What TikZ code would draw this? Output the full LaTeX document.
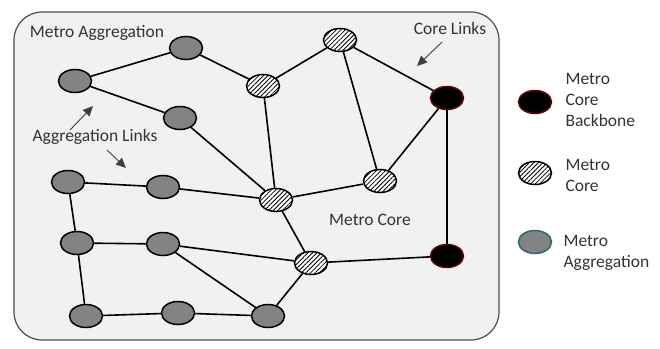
\documentclass[tikz,border=0pt]{standalone}
\usepackage{fontspec}
\setmainfont{Carlito}
\usetikzlibrary{shapes.geometric,patterns.meta,arrows.meta}
\definecolor{panel}{HTML}{F1F1F1}
\definecolor{aggfill}{HTML}{838383}
\definecolor{bbedge}{HTML}{5A0A0A}
\definecolor{aggedge}{HTML}{2E6A70}
\tikzset{
  site/.style={ellipse,draw,line width=1.5pt,minimum width=33pt,minimum height=23pt,inner sep=0pt},
  agg/.style={site,fill=aggfill},
  core/.style={site,preaction={fill=white},pattern={Lines[angle=45,distance=3.2pt,line width=0.8pt]}},
  bbone/.style={site,fill=black,draw=bbedge},
  link/.style={line width=1.6pt},
  tag/.style={font=\fontsize{17.5}{21}\selectfont,text=black!80},
  hint/.style={-{Triangle[length=10pt,width=9pt]},line width=0.9pt,black!75},
}
\begin{document}
\begin{tikzpicture}[x=1pt,y=-1pt]
        \useasboundingbox (0,0) rectangle (660,348);
        \draw[fill=panel,draw=black!70,line width=1.2pt,rounded corners=28pt] (14,12) rectangle (499,340);
        % aggregation sites
        \node[agg] (A1) at (186,48) {};
        \node[agg] (A2) at (75,81) {};
        \node[agg] (A3) at (180,118) {};
        \node[agg] (A4) at (68,182) {};
        \node[agg] (A5) at (163,187) {};
        \node[agg] (A6) at (77,243) {};
        \node[agg] (A7) at (163,244) {};
        \node[agg] (A8) at (86,316) {};
        \node[agg] (A9) at (178,313) {};
        \node[agg] (A10) at (268,316) {};
        % core sites
        \node[core] (C1) at (263,86) {};
        \node[core] (C2) at (340,40) {};
        \node[core] (C3) at (276,200) {};
        \node[core] (C4) at (380,181) {};
        \node[core] (C5) at (311,263) {};
        % backbone
        \node[bbone] (B1) at (447,98) {};
        \node[bbone] (B2) at (447,256) {};
        % links
        \draw[link] (A2) -- (A1);
        \draw[link] (A1) -- (C1);
        \draw[link] (A2) -- (A3);
        \draw[link] (A3) -- (C3);
        \draw[link] (C1) -- (C2);
        \draw[link] (C1) -- (C3);
        \draw[link] (C2) -- (C4);
        \draw[link] (C2) -- (B1);
        \draw[link] (C4) -- (B1);
        \draw[link] (B1) -- (B2);
        \draw[link] (C3) -- (C4);
        \draw[link] (C3) -- (C5);
        \draw[link] (C5) -- (B2);
        \draw[link] (A4) -- (A5);
        \draw[link] (A5) -- (C3);
        \draw[link] (A4) -- (A6);
        \draw[link] (A6) -- (A7);
        \draw[link] (A6) -- (A8);
        \draw[link] (A7) -- (C5);
        \draw[link] (A7) -- (A10);
        \draw[link] (A8) -- (A9);
        \draw[link] (A9) -- (A10);
        \draw[link] (A10) -- (C5);
        % labels
        \node[tag] (tAgg) at (97,33) {Metro Aggregation};
        \node[tag] (tAggL) at (95,137) {Aggregation Links};
        \node[tag] (tCoreL) at (450,28) {Core Links};
        \node[tag] (tCore) at (370,220) {Metro Core};
        \coordinate (h1s) at (70,130);
        \coordinate (h1e) at (93,106);
        \coordinate (h2s) at (107,150);
        \coordinate (h2e) at (126,168);
        \coordinate (h3s) at (442,42);
        \coordinate (h3e) at (417,66);
        \draw[hint] (h1s) -- (h1e);
        \draw[hint] (h2s) -- (h2e);
        \draw[hint] (h3s) -- (h3e);
        % legend
        \node[bbone] (kB) at (535,102) {};
        \node[core] (kC) at (535,173) {};
        \node[agg,draw=aggedge] (kA) at (535,242) {};
        \node[tag,anchor=west,align=left] (kBt) at (562,100) {Metro\\Core\\Backbone};
        \node[tag,anchor=west,align=left] (kCt) at (562,175) {Metro\\Core};
        \node[tag,anchor=west,align=left] (kAt) at (560,253) {Metro\\Aggregation};
      \end{tikzpicture}
\end{document}
